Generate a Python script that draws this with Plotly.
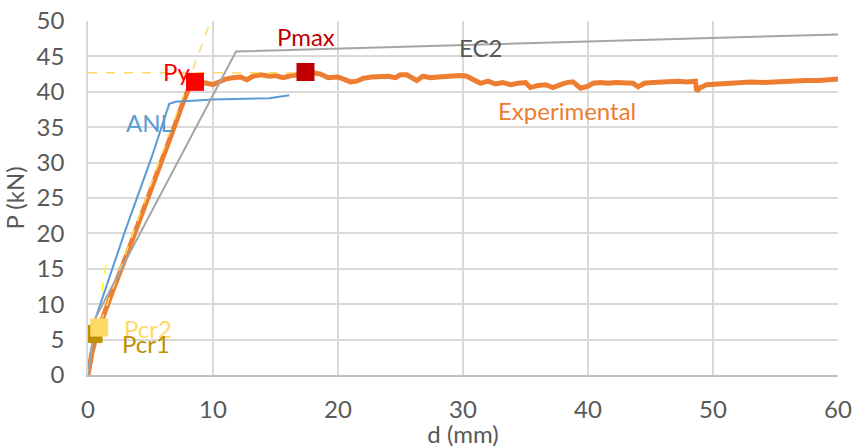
import plotly.graph_objects as go

# Experimental curve
exp_d = [0, 0.3, 0.7, 1.0, 1.5, 2.0, 3.1, 4.0, 5.0, 5.8, 6.5, 7.0, 7.5, 8.0, 8.5, 9.0, 9.5, 10.0, 10.5, 11.0,
         11.6, 12.2, 12.7, 13.2, 13.8, 14.5, 15.0, 15.6, 16.3, 17.0, 17.4, 18.0, 18.6, 19.2, 20.0, 20.6, 21.0, 21.5, 22.0, 22.7,
         23.4, 24.0, 24.6, 25.0, 25.5, 26.0, 26.3, 26.8, 27.4, 28.0, 28.6, 29.2, 29.8, 30.3, 30.8, 31.4, 32.0, 32.6, 33.2, 33.8,
         34.4, 35.0, 35.4, 36.0, 36.6, 37.2, 37.8, 38.3, 38.8, 39.4, 40.0, 40.4, 41.0, 41.6, 42.2, 42.8, 43.6, 44.0, 44.5, 45.2,
         45.8, 46.5, 47.2, 47.9, 48.6, 48.7, 49.0, 49.5, 50.2, 51.0, 52.0, 53.0, 54.0, 54.8, 55.5, 56.5, 57.5, 58.5, 59.3, 60.0]
exp_P = [0, 3.0, 5.8, 7.3, 9.6, 12.0, 17.0, 21.2, 25.8, 29.5, 33.0, 35.5, 38.0, 40.2, 41.5, 41.4, 41.2, 41.0, 41.4, 41.8,
         42.0, 42.1, 41.7, 42.2, 42.4, 42.2, 42.3, 42.0, 42.3, 42.4, 42.6, 42.7, 42.5, 42.0, 42.1, 41.6, 41.4, 41.5, 41.9, 42.1,
         42.1, 42.2, 42.0, 42.4, 42.4, 41.9, 41.6, 42.2, 42.0, 42.1, 42.2, 42.2, 42.3, 42.2, 41.8, 41.2, 41.5, 41.1, 41.3, 41.0,
         41.2, 41.3, 40.6, 40.9, 41.0, 40.6, 41.0, 41.3, 41.4, 40.5, 40.8, 41.2, 41.3, 41.2, 41.3, 41.2, 41.2, 40.7, 41.2, 41.3,
         41.4, 41.4, 41.5, 41.4, 41.5, 40.1, 40.6, 41.0, 41.1, 41.2, 41.3, 41.4, 41.3, 41.4, 41.5, 41.5, 41.6, 41.6, 41.7, 41.8]

# Analytical model (ANL)
anl_d = [0, 0.6, 3.0, 5.1, 6.5, 7.0, 10.0, 13.0, 14.5, 16.1]
anl_P = [0, 8.0, 20.5, 30.8, 38.3, 38.6, 38.9, 39.0, 39.1, 39.5]

# EC2 model
ec2_d = [0, 0.64, 11.84, 60.0]
ec2_P = [0, 8.2, 45.7, 48.1]

# Construction lines
yield_sec_d = [0.5, 9.8]
yield_sec_P = [5.0, 50.0]
pmax_line_d = [0, 17.4]
pmax_line_P = [42.7, 42.7]
tangent_d = [1.1, 1.5]
tangent_P = [11.8, 16.2]

# Characteristic points
pts = {
    "Pcr1": (0.45, 5.8, "#BF9000"),
    "Pcr2": (0.9, 6.7, "#FFD966"),
    "Py": (8.56, 41.4, "#FF0000"),
    "Pmax": (17.4, 42.8, "#C00000"),
}

# Labels: text, x, y, color
labels = [
    ("Pmax", 17.44, 47.8, "#C00000"),
    ("Py", 7.04, 42.8, "#FF0000"),
    ("EC2", 31.36, 46.3, "#595959"),
    ("Experimental", 38.3, 37.4, "#ED7D31"),
    ("ANL", 4.9, 35.7, "#5B9BD5"),
    ("Pcr2", 4.8, 6.5, "#FFD966"),
    ("Pcr1", 4.64, 4.4, "#BF9000"),
]

x_ticks = [0, 10, 20, 30, 40, 50, 60]
y_ticks = [0, 5, 10, 15, 20, 25, 30, 35, 40, 45, 50]

FONT = "Lato"
FS = 24
fig = go.Figure()
fig.add_trace(go.Scatter(x=exp_d, y=exp_P, mode="lines",
                         line=dict(color="#ED7D31", width=5), name="Experimental"))
fig.add_trace(go.Scatter(x=yield_sec_d, y=yield_sec_P, mode="lines",
                         line=dict(color="#FFD966", width=1.5, dash="dash")))
fig.add_trace(go.Scatter(x=pmax_line_d, y=pmax_line_P, mode="lines",
                         line=dict(color="#FFD966", width=1.5, dash="dash")))
fig.add_trace(go.Scatter(x=tangent_d, y=tangent_P, mode="lines",
                         line=dict(color="#FFFF00", width=1.5, dash="dash")))
fig.add_trace(go.Scatter(x=anl_d, y=anl_P, mode="lines",
                         line=dict(color="#5B9BD5", width=2), name="ANL"))
fig.add_trace(go.Scatter(x=ec2_d, y=ec2_P, mode="lines",
                         line=dict(color="#A5A5A5", width=2), name="EC2"))
for name, (px, py, col) in pts.items():
    fig.add_trace(go.Scatter(x=[px], y=[py], mode="markers", name=name,
                             marker=dict(symbol="square", size=18, color=col)))

for text, lx, ly, col in labels:
    fig.add_annotation(x=lx, y=ly, text=text, showarrow=False,
                       font=dict(family=FONT, size=FS, color=col))

fig.update_layout(
    width=853, height=448,
    margin=dict(l=88, r=15, t=21, b=73),
    paper_bgcolor="white", plot_bgcolor="white",
    showlegend=False,
    font=dict(family=FONT, size=FS, color="#595959"),
    xaxis=dict(range=[0, 60], tickvals=x_ticks, showgrid=True, gridcolor="#D9D9D9", gridwidth=1.5,
               showline=True, linecolor="#BFBFBF", linewidth=2, zeroline=False, automargin=False,
               ticks="", ticklabelstandoff=12,
               title=dict(text="d (mm)", standoff=8, font=dict(size=FS, color="#595959"))),
    yaxis=dict(range=[0, 50], tickvals=y_ticks, showgrid=True, gridcolor="#D9D9D9", gridwidth=1.5,
               showline=True, linecolor="#D9D9D9", linewidth=1.5, zeroline=False, automargin=False,
               ticks="", ticklabelstandoff=17,
               title=dict(text="P (kN)", standoff=11, font=dict(size=FS, color="#595959"))),
)

fig.write_html("out.html")
